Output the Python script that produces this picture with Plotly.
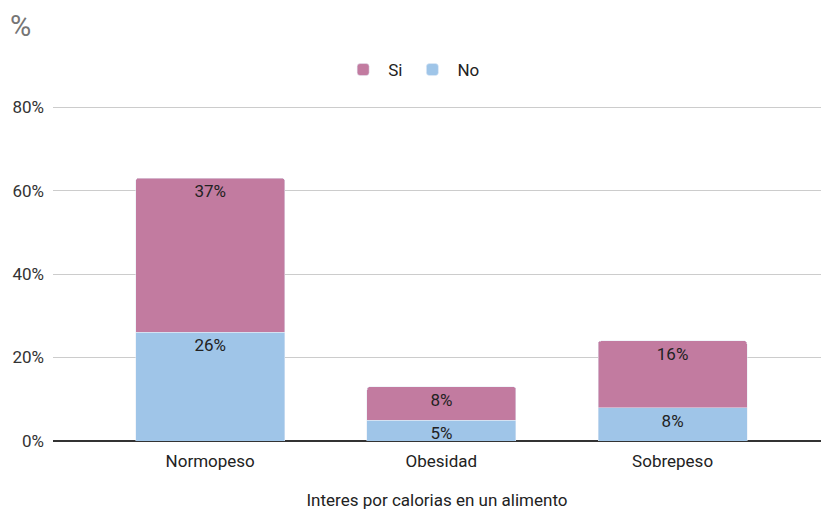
import plotly.graph_objects as go

categories = ["Normopeso", "Obesidad", "Sobrepeso"]
no_values = [26, 5, 8]
si_values = [37, 8, 16]
y_ticks = [0, 20, 40, 60, 80]
y_tick_labels = ["0%", "20%", "40%", "60%", "80%"]

SI_COLOR = "#c27ba0"
NO_COLOR = "#9fc5e8"
FONT = "Roboto, Arial, sans-serif"

fig = go.Figure()
for name, vals, color in [("No", no_values, NO_COLOR), ("Si", si_values, SI_COLOR)]:
    fig.add_trace(go.Bar(
        name=name, x=categories, y=vals, marker_color=color,
        texttemplate="%{y:.0f}%", textposition="inside", insidetextanchor="end",
        constraintext="none",
        textfont=dict(size=17, color="#222222", family=FONT),
        width=0.644,
    ))

fig.update_layout(
    width=821, height=512,
    barmode="stack",
    barcornerradius=3,
    plot_bgcolor="white", paper_bgcolor="white",
    font=dict(family=FONT, size=17, color="#444444"),
    margin=dict(l=53, r=0, t=105, b=71),
    showlegend=True,
    legend=dict(
        orientation="h", x=0.467, xanchor="center", y=1.0 + 35 / 336, yanchor="middle",
        traceorder="reversed", font=dict(size=17, color="#222222"),
        itemwidth=40,
    ),
    xaxis=dict(
        range=[-0.68, 2.642], showgrid=False, ticks="",
        ticklabelstandoff=8,
        tickfont=dict(size=17, color="#222222"),
        title=dict(text="Interes por calorias en un alimento",
                   font=dict(size=17, color="#222222"), standoff=24),
    ),
    yaxis=dict(
        range=[0, 80.5], tickvals=y_ticks, ticktext=y_tick_labels,
        showgrid=True, gridcolor="#cccccc", gridwidth=1,
        zeroline=True, zerolinecolor="#333333", zerolinewidth=1.5,
        ticks="", ticklabelstandoff=8,
        tickfont=dict(size=17, color="#333333"),
    ),
    annotations=[dict(
        text="%", xref="paper", yref="paper", x=-53 / 768, y=1 + 79 / 336,
        xanchor="left", yanchor="middle", showarrow=False, xshift=8,
        font=dict(size=29, color="#757575", family=FONT),
    )],
)

fig.write_html("out.html")
